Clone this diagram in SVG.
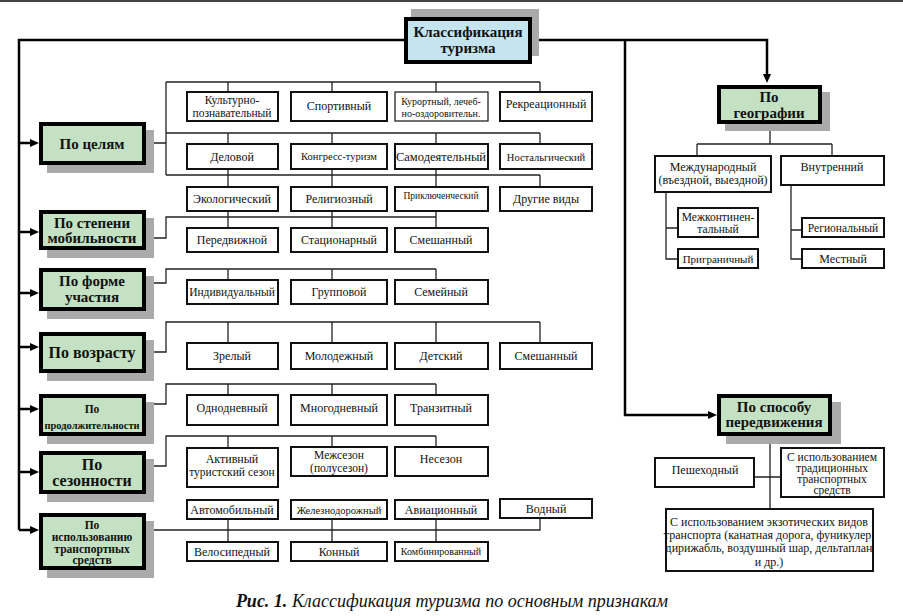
<svg xmlns="http://www.w3.org/2000/svg" width="903" height="616" viewBox="0 0 903 616" font-family="'Liberation Serif', 'Times New Roman', 'DejaVu Serif', serif">
<style>
text{font-family:'Liberation Serif','Times New Roman','DejaVu Serif',serif;fill:#111;text-anchor:middle}
.b{fill:#fff;stroke:#111;stroke-width:2}
.bt{fill:#fff;stroke:#111;stroke-width:1.2}
.g{fill:#c5e1c3;stroke:#000;stroke-width:4}
.m{fill:#c4e5ef;stroke:#000;stroke-width:4}
.sh{fill:#aaaaaa}
.t{font-size:12px}
.ts{font-size:10.5px}
.gt{font-size:15px;font-weight:bold}
.gs{font-size:11.5px;font-weight:bold}
.c{fill:none;stroke:#222;stroke-width:1.3}
.k{fill:none;stroke:#000;stroke-width:2.5}
</style>
<defs>
<marker id="ah" markerUnits="userSpaceOnUse" markerWidth="10" markerHeight="10" refX="0" refY="4" orient="auto"><path d="M0,0 L9,4 L0,8z" fill="#000"/></marker>
</defs>
<line x1="0" y1="1" x2="903" y2="1" stroke="#444" stroke-width="2"/>

<g id="connectors">
<path class="k" d="M404,40 H19 V530"/>
<path class="k" d="M19,143 H30" marker-end="url(#ah)"/>
<path class="k" d="M19,232 H30" marker-end="url(#ah)"/>
<path class="k" d="M19,293 H30" marker-end="url(#ah)"/>
<path class="k" d="M19,347 H30" marker-end="url(#ah)"/>
<path class="k" d="M19,409 H30" marker-end="url(#ah)"/>
<path class="k" d="M19,472 H30" marker-end="url(#ah)"/>
<path class="k" d="M19,530 H30" marker-end="url(#ah)"/>
<path class="k" d="M532,40 H767 V74" marker-end="url(#ah)"/>
<path class="k" d="M625,40 V415 H708" marker-end="url(#ah)"/>
<path class="c" d="M146,143 H166 M166,82 V175 M166,82 H540 M166,133 H540 M166,175 H540"/>
<path class="c" d="M228,82 V92 M332,82 V92 M436,82 V92 M540,82 V92"/>
<path class="c" d="M228,133 V144 M332,133 V144 M436,133 V144 M540,133 V144"/>
<path class="c" d="M228,170 V187 M332,170 V187 M436,170 V187 M540,175 V187"/>
<path class="c" d="M146,238 H166 V217 H436 M228,212 V228 M332,212 V228 M436,212 V228"/>
<path class="c" d="M146,283 H166 V269 H436 M228,269 V280 M332,269 V280 M436,269 V280"/>
<path class="c" d="M146,352 H166 V322 H540 M228,322 V343 M332,322 V343 M436,322 V343 M540,322 V343"/>
<path class="c" d="M146,404 H166 V384 H436 M228,384 V395 M332,384 V395 M436,384 V395"/>
<path class="c" d="M146,466 H166 V436 H436 M228,436 V448 M332,436 V447 M436,436 V447"/>
<path class="c" d="M146,530 H540 V518 M228,520 V542 M332,520 V542 M436,520 V542"/>
<path class="c" d="M770,131 V144 M697,144 H832 M697,144 V155 M832,144 V155"/>
<path class="c" d="M666,193 V259 H677 M666,228 H677 M791,186 V259 H801 M791,230 H801"/>
<path class="c" d="M770,444 V508 M755,477 H780"/>
</g>

<g id="root">
<rect class="sh" x="411" y="9" width="128" height="47"/>
<rect class="m" x="406" y="19" width="124" height="43"/>
<text class="gt" x="468" y="37">Классификация</text>
<text class="gt" x="468" y="53">туризма</text>
</g>

<g id="po-celyam">
<rect class="sh" x="47" y="130" width="107" height="43"/>
<rect class="g" x="41" y="124" width="103" height="39"/>
<text class="gt" x="92" y="149">По целям</text>
</g>
<g id="po-mobilnosti">
<rect class="sh" x="47" y="218" width="107" height="40"/>
<rect class="g" x="41" y="212" width="103" height="36"/>
<text class="gt" x="92" y="228">По степени</text>
<text class="gt" x="92" y="243">мобильности</text>
</g>
<g id="po-forme">
<rect class="sh" x="47" y="276" width="107" height="43"/>
<rect class="g" x="41" y="270" width="103" height="39"/>
<text class="gt" x="92" y="286">По форме</text>
<text class="gt" x="92" y="302">участия</text>
</g>
<g id="po-vozrastu">
<rect class="sh" x="47" y="340" width="107" height="41"/>
<rect class="g" x="41" y="334" width="103" height="37"/>
<text class="gt" x="92" y="358" style="font-size:16px">По возрасту</text>
</g>
<g id="po-prodolzhitelnosti">
<rect class="sh" x="47" y="402" width="107" height="42"/>
<rect class="g" x="41" y="396" width="103" height="38"/>
<text class="gs" x="92" y="413">По</text>
<text class="gs" x="92" y="429" style="font-size:10.5px">продолжительности</text>
</g>
<g id="po-sezonnosti">
<rect class="sh" x="47" y="459" width="107" height="43"/>
<rect class="g" x="41" y="453" width="103" height="39"/>
<text class="gt" x="92" y="470" style="font-size:16px">По</text>
<text class="gt" x="92" y="486" style="font-size:16px">сезонности</text>
</g>
<g id="po-transportu">
<rect class="sh" x="47" y="521" width="107" height="57"/>
<rect class="g" x="41" y="515" width="103" height="53"/>
<text class="gs" x="92" y="529">По</text>
<text class="gs" x="92" y="541">использованию</text>
<text class="gs" x="92" y="553">транспортных</text>
<text class="gs" x="92" y="564">средств</text>
</g>

<g id="po-geografii">
<rect class="sh" x="725" y="92" width="105" height="39"/>
<rect class="g" x="719" y="87" width="101" height="35"/>
<text class="gt" x="769" y="102">По</text>
<text class="gt" x="769" y="118">географии</text>
</g>
<g id="po-sposobu">
<rect class="sh" x="726" y="402" width="115" height="42"/>
<rect class="g" x="719" y="396" width="111" height="38"/>
<text class="gt" x="774" y="412">По способу</text>
<text class="gt" x="774" y="427">передвижения</text>
</g>

<g id="kult"><rect class="b" x="187" y="92" width="91" height="29"/><text class="t" x="232" y="104" style="font-size:11.5px">Культурно-</text><text class="t" x="232" y="117" style="font-size:11.5px">познавательный</text></g>
<g id="sport"><rect class="b" x="291" y="92" width="96" height="29"/><text class="t" x="339" y="110">Спортивный</text></g>
<g id="kurort"><rect class="bt" x="395" y="92" width="93" height="29"/><text class="ts" x="441" y="104.5" style="font-size:10px">Курортный, лечеб-</text><text class="ts" x="441" y="116.5" style="font-size:10px">но-оздоровительн.</text></g>
<g id="rekr"><rect class="b" x="500" y="92" width="92" height="29"/><text class="t" x="546" y="107.5">Рекреационный</text></g>

<g id="delovoy"><rect class="b" x="187" y="144" width="91" height="25"/><text class="t" x="232" y="161">Деловой</text></g>
<g id="kongress"><rect class="b" x="291" y="144" width="96" height="25"/><text class="ts" x="339" y="160">Конгресс-туризм</text></g>
<g id="samod"><rect class="b" x="395" y="144" width="93" height="25"/><text class="t" x="441" y="161" style="font-size:12.5px">Самодеятельный</text></g>
<g id="nost"><rect class="b" x="500" y="144" width="92" height="25"/><text class="ts" x="546" y="161">Ностальгический</text></g>

<g id="ekol"><rect class="b" x="187" y="187" width="91" height="24"/><text class="t" x="232" y="203">Экологический</text></g>
<g id="relig"><rect class="b" x="291" y="187" width="96" height="24"/><text class="t" x="339" y="203">Религиозный</text></g>
<g id="prikl"><rect class="b" x="395" y="187" width="93" height="24"/><text class="ts" x="441" y="199" style="font-size:9.5px">Приключенческий</text></g>
<g id="drugie"><rect class="b" x="500" y="187" width="92" height="24"/><text class="t" x="546" y="203">Другие виды</text></g>

<g id="peredv"><rect class="b" x="187" y="228" width="91" height="24"/><text class="t" x="232" y="244">Передвижной</text></g>
<g id="stac"><rect class="b" x="291" y="228" width="96" height="24"/><text class="t" x="339" y="244">Стационарный</text></g>
<g id="smesh1"><rect class="b" x="395" y="228" width="93" height="24"/><text class="t" x="441" y="244">Смешанный</text></g>

<g id="indiv"><rect class="b" x="187" y="280" width="91" height="24"/><text class="t" x="232" y="296" style="font-size:11.5px">Индивидуальный</text></g>
<g id="grupp"><rect class="b" x="291" y="280" width="96" height="24"/><text class="t" x="339" y="296">Групповой</text></g>
<g id="semey"><rect class="b" x="395" y="280" width="93" height="24"/><text class="t" x="441" y="296">Семейный</text></g>

<g id="zrel"><rect class="b" x="187" y="343" width="91" height="26"/><text class="t" x="232" y="360">Зрелый</text></g>
<g id="molod"><rect class="b" x="291" y="343" width="96" height="26"/><text class="t" x="339" y="360">Молодежный</text></g>
<g id="detsk"><rect class="b" x="395" y="343" width="93" height="26"/><text class="t" x="441" y="360">Детский</text></g>
<g id="smesh2"><rect class="b" x="500" y="343" width="92" height="26"/><text class="t" x="546" y="360">Смешанный</text></g>

<g id="odnod"><rect class="b" x="187" y="395" width="91" height="30"/><text class="t" x="232" y="412">Однодневный</text></g>
<g id="mnogod"><rect class="b" x="291" y="395" width="96" height="30"/><text class="t" x="339" y="412">Многодневный</text></g>
<g id="tranz"><rect class="b" x="395" y="395" width="93" height="30"/><text class="t" x="441" y="412">Транзитный</text></g>

<g id="aktiv"><rect class="b" x="187" y="448" width="91" height="39"/><text class="t" x="232" y="463">Активный</text><text class="t" x="232" y="476" style="font-size:11.5px">туристский сезон</text></g>
<g id="mezhsez"><rect class="b" x="291" y="447" width="96" height="29"/><text class="t" x="339" y="459" style="font-size:11.5px">Межсезон</text><text class="t" x="339" y="471.5" style="font-size:11.5px">(полусезон)</text></g>
<g id="nesez"><rect class="b" x="395" y="447" width="93" height="29"/><text class="t" x="441" y="463">Несезон</text></g>

<g id="avto"><rect class="b" x="187" y="500" width="91" height="19"/><text class="t" x="232" y="513.5">Автомобильный</text></g>
<g id="zhd"><rect class="b" x="291" y="500" width="96" height="19"/><text class="ts" x="339" y="513.5">Железнодорожный</text></g>
<g id="avia"><rect class="b" x="395" y="500" width="93" height="19"/><text class="t" x="441" y="513.5">Авиационный</text></g>
<g id="vodn"><rect class="b" x="500" y="499" width="92" height="19"/><text class="t" x="546" y="512.5">Водный</text></g>

<g id="velo"><rect class="b" x="187" y="542" width="91" height="19"/><text class="t" x="232" y="555.5">Велосипедный</text></g>
<g id="konn"><rect class="b" x="291" y="542" width="96" height="19"/><text class="t" x="339" y="555.5">Конный</text></g>
<g id="kombi"><rect class="b" x="395" y="542" width="93" height="19"/><text class="ts" x="441" y="555" style="font-size:10px">Комбинированный</text></g>

<g id="mezhdun"><rect class="b" x="655" y="156" width="116" height="36"/><text class="t" x="713" y="171">Международный</text><text class="t" x="713" y="184">(въездной, выездной)</text></g>
<g id="vnutr"><rect class="b" x="781" y="156" width="103" height="29"/><text class="t" x="832" y="171">Внутренний</text></g>
<g id="mezhkont"><rect class="b" x="678" y="208" width="80" height="29"/><text class="t" x="718" y="221" style="font-size:11.5px">Межконтинен-</text><text class="t" x="718" y="233" style="font-size:11.5px">тальный</text></g>
<g id="prigran"><rect class="b" x="678" y="249" width="80" height="19"/><text class="ts" x="718" y="262.5" style="font-size:11px">Приграничный</text></g>
<g id="region"><rect class="b" x="802" y="218" width="82" height="19"/><text class="t" x="843" y="232" style="font-size:11.5px">Региональный</text></g>
<g id="mestn"><rect class="b" x="802" y="249" width="82" height="19"/><text class="t" x="843" y="262.5">Местный</text></g>

<g id="peshe"><rect class="b" x="655" y="458" width="99" height="29"/><text class="t" x="705" y="474">Пешеходный</text></g>
<g id="tradic"><rect class="b" x="781" y="448" width="103" height="49"/><text class="t" x="832" y="461" style="font-size:11.5px">С использованием</text><text class="t" x="832" y="472" style="font-size:11.5px">традиционных</text><text class="t" x="832" y="483" style="font-size:11.5px">транспортных</text><text class="t" x="832" y="494" style="font-size:11.5px">средств</text></g>
<g id="ekzot"><rect class="b" x="666" y="509" width="207" height="62"/><text class="t" x="769" y="526">С использованием экзотических видов</text><text class="t" x="769" y="539">транспорта (канатная дорога, фуникулер,</text><text class="t" x="769" y="552">дирижабль, воздушный шар, дельтаплан</text><text class="t" x="769" y="566">и др.)</text></g>

<text x="452" y="607" style="font-size:18px;font-style:italic"><tspan font-weight="bold">Рис. 1.</tspan> Классификация туризма по основным признакам</text>
</svg>
